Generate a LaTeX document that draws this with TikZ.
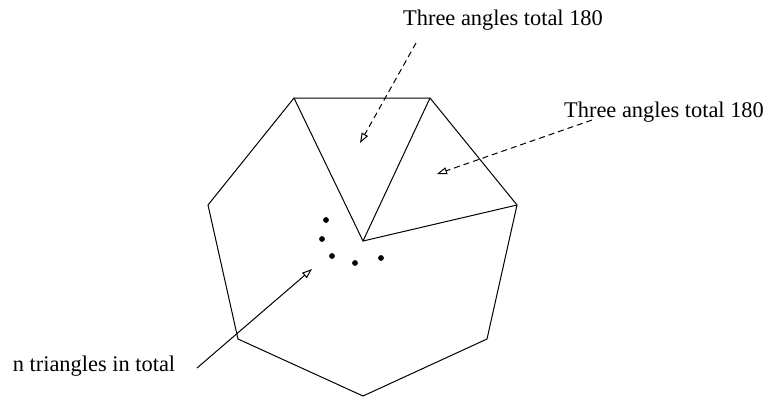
\documentclass[tikz,border=0pt]{standalone}
\usepackage{fontspec}
\setmainfont{Liberation Serif}
\usetikzlibrary{arrows.meta}

\begin{document}
\begin{tikzpicture}[
    x=0.5pt, y=-0.5pt,
    edge/.style={line width=0.5pt, line join=miter},
    caption/.style={font=\fontsize{11.2}{13}\selectfont, inner sep=0pt},
    dasharrow/.style={line width=0.5pt, dash pattern=on 3pt off 2pt, -{Triangle[open, length=5pt, width=3.5pt]}},
    solidarrow/.style={line width=0.5pt, -{Triangle[open, length=5pt, width=3.5pt]}},
    dot/.style={circle, fill, inner sep=0pt, minimum size=2.9pt}
]
\useasboundingbox (0,0) rectangle (769,397);

% polygon corners and the common apex
\coordinate (ptA) at (294,98);
\coordinate (ptB) at (430,98);
\coordinate (ptC) at (517,205);
\coordinate (ptD) at (487,339);
\coordinate (ptE) at (363,396);
\coordinate (ptF) at (238,339);
\coordinate (ptG) at (208,205);
\coordinate (apex) at (363,241);

\draw[edge] (ptA) -- (ptB) -- (ptC) -- (ptD) -- (ptE) -- (ptF) -- (ptG) -- cycle;
\draw[edge] (ptA) -- (apex) -- (ptB);
\draw[edge] (apex) -- (ptC);

% dots for the remaining triangles
\node[dot] (dotA) at (326,220) {};
\node[dot] (dotB) at (322,239) {};
\node[dot] (dotC) at (332,256) {};
\node[dot] (dotD) at (355,263) {};
\node[dot] (dotE) at (381,258) {};

% texts
\node[caption] (topnote) at (503,20) {Three angles total 180};
\node[caption] (rightnote) at (664,112) {Three angles total 180};
\node[caption] (leftnote) at (94,366) {n triangles in total};

% arrow ends
\coordinate (topfrom) at (416,43);
\coordinate (topto) at (360,143);
\coordinate (rightfrom) at (592,120);
\coordinate (rightto) at (437,174);
\coordinate (leftfrom) at (197,368);
\coordinate (leftto) at (312,269);

\draw[dasharrow] (topfrom) -- (topto);
\draw[dasharrow] (rightfrom) -- (rightto);
\draw[solidarrow] (leftfrom) -- (leftto);
\end{tikzpicture}
\end{document}
